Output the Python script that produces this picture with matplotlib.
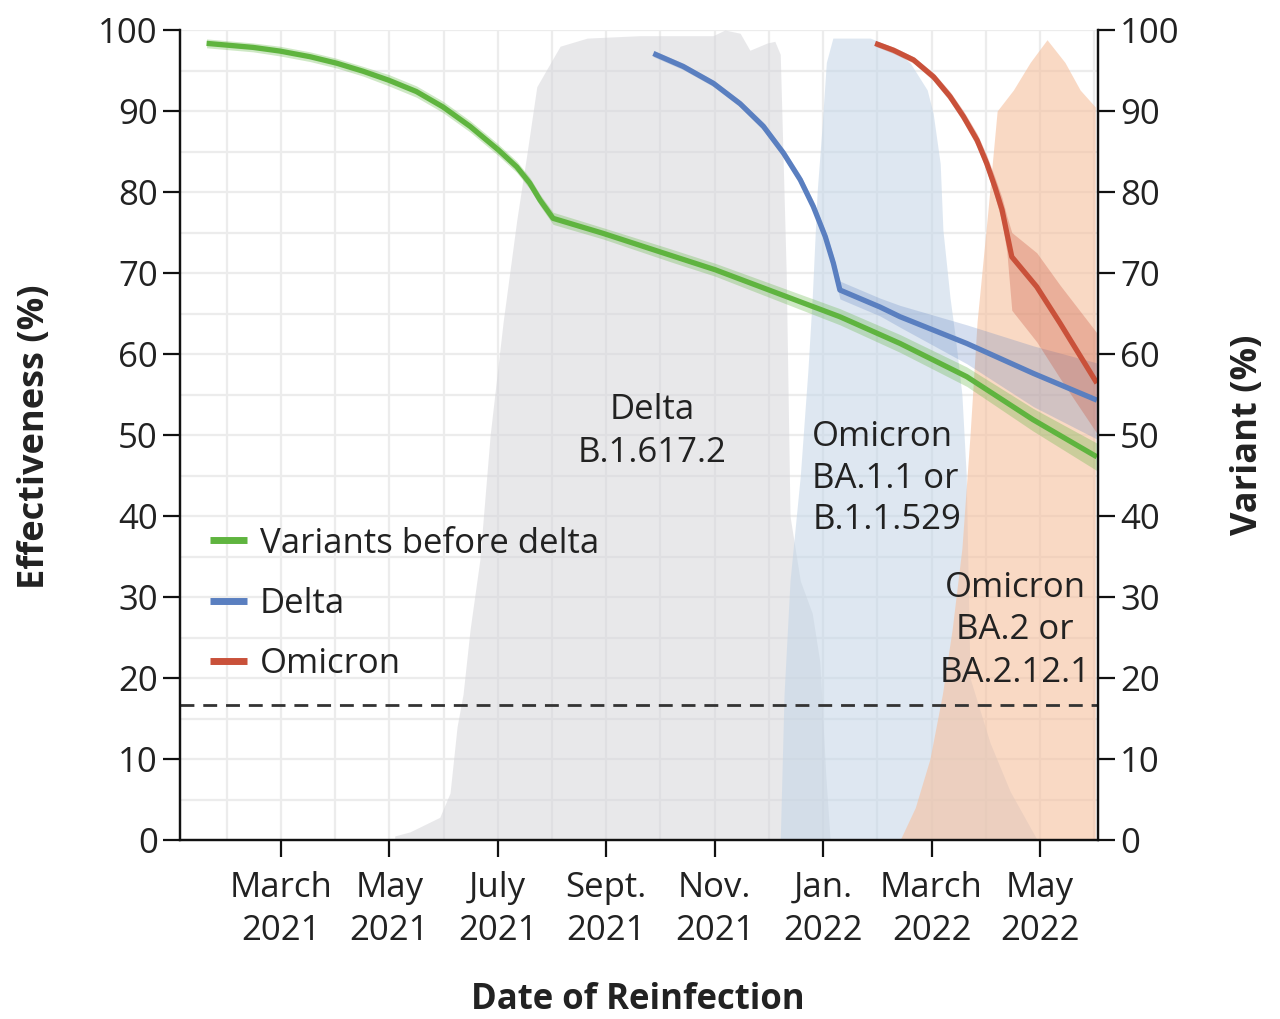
import matplotlib
matplotlib.use("Agg")
import matplotlib.pyplot as plt

plt.rcParams['font.family'] = ['Open Sans', 'DejaVu Sans']

# x values are months since 1 January 2021 (2 = March 2021, 16 = May 2022)
tick_months = [2, 4, 6, 8, 10, 12, 14, 16]
tick_labels = ["March\n2021", "May\n2021", "July\n2021", "Sept.\n2021",
               "Nov.\n2021", "Jan.\n2022", "March\n2022", "May\n2022"]

# Variant share (%) over time
delta_share_x = [4.10, 4.38, 4.93, 5.12, 5.25, 5.36, 5.49, 5.67, 5.86, 6.10, 6.35, 6.54,
                 6.72, 7.15, 7.65, 8.62, 9.97, 10.19, 10.47, 10.65, 10.97, 11.11, 11.21,
                 11.32, 11.39, 11.58, 11.80, 11.94, 12.05, 12.13]
delta_share_y = [0.5, 1.0, 2.8, 5.8, 14, 18, 26, 34.6, 50, 64, 76.5, 84.8,
                 93, 98, 99, 99.3, 99.3, 100, 99.6, 97.5, 98.4, 98.6, 97,
                 70, 40, 32, 28, 22, 8, 0]

ba1_share_x = [11.21, 11.28, 11.39, 11.58, 11.72, 11.80, 11.89, 11.98, 12.06, 12.18,
               12.87, 13.24, 13.61, 13.92, 14.03, 14.16, 14.21, 14.34, 14.44, 14.56,
               14.64, 14.71, 15.08, 15.45, 15.95]
ba1_share_y = [0, 18, 32, 45, 58, 67, 80, 88, 96, 99,
               99, 98, 95.9, 92.6, 89.7, 83.5, 75.3, 67, 62, 55,
               45, 20, 12, 6, 0]

ba2_share_x = [13.42, 13.70, 13.97, 14.20, 14.38, 14.56, 14.71, 14.84, 15.03, 15.21,
               15.51, 15.82, 16.13, 16.46, 16.74, 17.02]
ba2_share_y = [0, 4, 10, 18, 26, 36, 50, 64, 77, 90,
               92.6, 96, 98.8, 96, 92.6, 90.5]

# Effectiveness (%) of prior infection against reinfection
pre_delta_x = [0.63, 1.49, 1.98, 2.54, 3.03, 3.52, 3.99, 4.50, 4.99, 5.49, 6.01, 6.35,
               6.59, 6.78, 7.02, 7.94, 9.18, 10.01, 12.31, 13.42, 14.65, 15.87, 17.05]
pre_delta_y = [98.35, 97.85, 97.4, 96.7, 95.9, 94.9, 93.8, 92.4, 90.5, 88.1, 85.2, 83.1,
               81.1, 79.0, 76.75, 74.9, 72.2, 70.4, 64.6, 61.3, 57.2, 51.9, 47.3]
pre_delta_lo = [97.8, 97.3, 96.8, 96.1, 95.3, 94.3, 93.1, 91.7, 89.8, 87.4, 84.5, 82.4,
                80.4, 78.3, 76.0, 74.2, 71.4, 69.6, 63.6, 60.2, 56.0, 50.5, 45.6]
pre_delta_hi = [98.9, 98.4, 98.0, 97.3, 96.5, 95.5, 94.5, 93.1, 91.2, 88.8, 85.9, 83.8,
                81.8, 79.7, 77.5, 75.6, 73.0, 71.2, 65.6, 62.4, 58.4, 53.3, 49.0]

delta_x = [8.87, 9.42, 9.98, 10.47, 10.90, 11.27, 11.58, 11.82, 12.04, 12.19, 12.31,
           13.05, 13.42, 14.65, 15.88, 17.05]
delta_y = [97.1, 95.5, 93.4, 90.9, 88.1, 84.8, 81.5, 78.2, 74.5, 71.2, 67.9,
           65.8, 64.6, 61.3, 57.6, 54.3]
delta_lo = [96.7, 95.1, 93.0, 90.5, 87.6, 84.3, 80.9, 77.5, 73.8, 70.3, 66.8,
            64.7, 63.3, 58.8, 53.5, 49.5]
delta_hi = [97.5, 95.9, 93.8, 91.3, 88.6, 85.3, 82.1, 78.9, 75.2, 72.1, 69.0,
            66.9, 66.0, 63.6, 61.0, 58.9]

omicron_x = [12.96, 13.30, 13.67, 14.04, 14.34, 14.59, 14.84, 15.02, 15.17, 15.30,
             15.39, 15.48, 15.94, 16.37, 17.05]
omicron_y = [98.35, 97.5, 96.3, 94.2, 91.8, 89.3, 86.4, 83.5, 80.6, 77.8,
             74.9, 72.0, 68.3, 63.8, 56.4]
omicron_lo = [98.0, 97.1, 95.9, 93.7, 91.2, 88.6, 85.6, 82.5, 79.4, 76.3,
              72.5, 65.4, 61.5, 57.0, 50.2]
omicron_hi = [98.7, 97.9, 96.7, 94.7, 92.4, 90.0, 87.2, 84.5, 81.8, 79.3,
              77.0, 75.0, 72.5, 68.5, 62.6]

threshold = 16.7

fig = plt.figure(figsize=(12.8, 10.19), dpi=100)
ax = fig.add_axes([180 / 1280, 1 - 840 / 1019, 918 / 1280, 810 / 1019])
ax2 = ax.twinx()

ax.set_xlim(0.14, 17.07)
ax.set_ylim(0, 100)
ax2.set_ylim(0, 100)

# light grid: monthly verticals, every 5 % horizontally
for m in range(1, 18):
    ax.axvline(m, color='#ececec', lw=1.6, zorder=0)
for v in range(5, 101, 5):
    ax.axhline(v, color='#ececec', lw=1.6, zorder=0)

# variant share areas
ax.fill_between(delta_share_x, 0, delta_share_y, color='#d6d6da', alpha=0.55, lw=0, zorder=1)
ax.fill_between(ba1_share_x, 0, ba1_share_y, color='#c3d5e7', alpha=0.55, lw=0, zorder=1)
ax.fill_between(ba2_share_x, 0, ba2_share_y, color='#f6c09e', alpha=0.6, lw=0, zorder=1)

ax.axhline(threshold, color='#333333', lw=2.0, ls=(0, (5, 3.2)), zorder=2)

# effectiveness curves with confidence bands
green, blue, red = '#5fb43f', '#5a7fc0', '#c9513a'
ax.fill_between(pre_delta_x, pre_delta_lo, pre_delta_hi, color=green, alpha=0.3, lw=0, zorder=3)
ax.fill_between(delta_x, delta_lo, delta_hi, color=blue, alpha=0.25, lw=0, zorder=3)
ax.fill_between(omicron_x, omicron_lo, omicron_hi, color=red, alpha=0.3, lw=0, zorder=3)
l1, = ax.plot(pre_delta_x, pre_delta_y, color=green, lw=3.8, solid_capstyle='butt',
              solid_joinstyle='round', zorder=4)
l2, = ax.plot(delta_x, delta_y, color=blue, lw=3.8, solid_capstyle='butt',
              solid_joinstyle='round', zorder=4)
l3, = ax.plot(omicron_x, omicron_y, color=red, lw=3.8, solid_capstyle='butt',
              solid_joinstyle='round', zorder=4)

txt = '#222222'
fs = 25
ax.text(8.845, 50.4, "Delta\nB.1.617.2", ha='center', va='center', fontsize=fs,
        color=txt, linespacing=1.35, zorder=5)
ax.text(11.80, 44.6, "Omicron\nBA.1.1 or\nB.1.1.529", ha='left', va='center', fontsize=fs,
        color=txt, linespacing=1.28, zorder=5)
ax.text(15.54, 25.9, "Omicron\nBA.2 or\nBA.2.12.1", ha='center', va='center', fontsize=fs,
        color=txt, linespacing=1.32, multialignment='center', zorder=5)

leg = ax.legend([l1, l2, l3], ["Variants before delta", "Delta", "Omicron"],
                loc='upper left', bbox_to_anchor=(0.033, 0.387), frameon=False,
                fontsize=fs, handlelength=1.05, handletextpad=0.38, labelspacing=0.76,
                borderpad=0, borderaxespad=0)
for t in leg.get_texts():
    t.set_color(txt)
for h in leg.get_lines():
    h.set_linewidth(5)

# axes styling
for a in (ax, ax2):
    a.spines['top'].set_visible(False)
    for s in ('left', 'right', 'bottom'):
        a.spines[s].set_linewidth(1.6)
        a.spines[s].set_color('#111111')
ax.set_xticks(tick_months)
ax.set_xticklabels(tick_labels, linespacing=1.38)
ax.set_yticks(range(0, 101, 10))
ax2.set_yticks(range(0, 101, 10))
ax.tick_params(axis='both', which='major', length=12, width=1.6, labelsize=25,
               colors='#111111', labelcolor=txt, pad=4)
ax2.tick_params(axis='y', length=12, width=1.6, labelsize=25, colors='#111111',
                labelcolor=txt, pad=4)
ax.tick_params(axis='x', pad=10)

fig.text(638 / 1280, 1 - 1000 / 1019, "Date of Reinfection", ha='center', va='center',
         fontsize=25, fontweight='bold', color=txt)
fig.text(35 / 1280, 1 - 437 / 1019, "Effectiveness (%)", ha='center', va='center',
         rotation=90, fontsize=26, fontweight='bold', color=txt)
fig.text(1248 / 1280, 1 - 435 / 1019, "Variant (%)", ha='center', va='center',
         rotation=90, fontsize=26, fontweight='bold', color=txt)

fig.savefig("out.png", dpi=100, facecolor='white')
